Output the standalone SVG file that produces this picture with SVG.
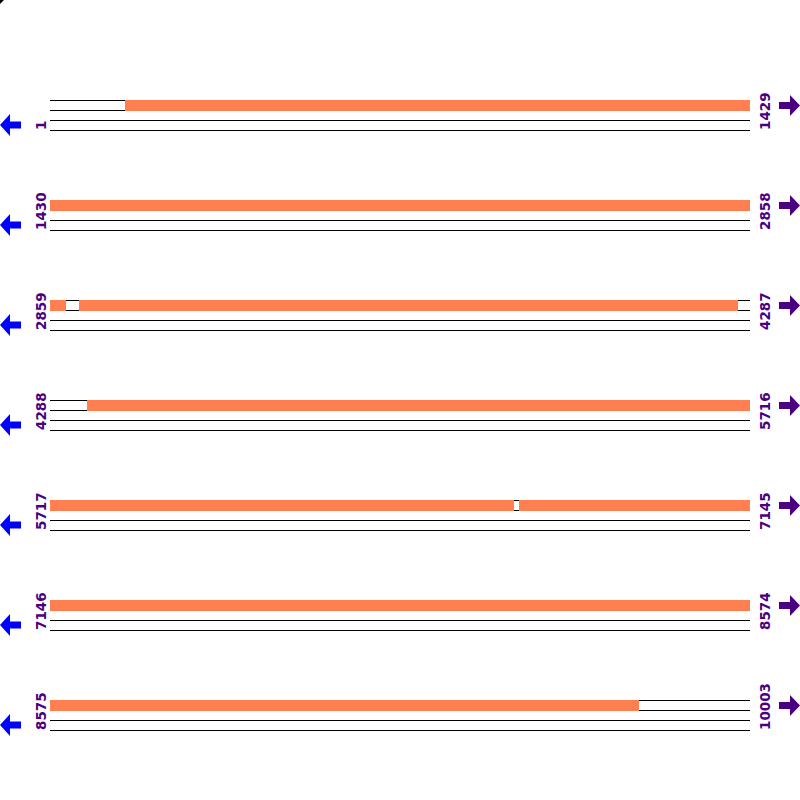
<svg xmlns="http://www.w3.org/2000/svg" width="800" height="800" viewBox="0 0 800 800">
<defs>
<style>
.ln{stroke:#000;stroke-width:1;fill:none}
.bar{fill:#ff7f50}
.lbl{font-family:"DejaVu Sans","Liberation Sans",sans-serif;font-size:13.5px;font-weight:bold;fill:#4b0082}
.la{fill:#0000ff}
.ra{fill:#4b0082}
</style>
<g id="tracks">
<path class="ln" d="M50,100.5H750M50,110.5H750M50,120.5H750M50,130.5H750"/>
</g>
<polygon id="larrow" class="la" points="0,125 10,114 10,121.5 21,121.5 21,128.5 10,128.5 10,136"/>
<polygon id="rarrow" class="ra" points="800,105.5 790,95 790,102 779,102 779,109 790,109 790,116"/>
</defs>
<rect width="800" height="800" fill="#fff"/>
<polygon points="0,0 4,0 0,4" fill="#000"/>
<g id="row1">
<use href="#tracks"/><rect class="bar" x="125" y="100" width="625" height="11"/>
<text class="lbl" transform="translate(46,130) rotate(-90)">1</text>
<text class="lbl" transform="translate(770,130) rotate(-90)">1429</text>
<use href="#larrow"/><use href="#rarrow"/>
</g>
<g id="row2" transform="translate(0,100)">
<use href="#tracks"/><rect class="bar" x="50" y="100" width="700" height="11"/>
<text class="lbl" transform="translate(46,130) rotate(-90)">1430</text>
<text class="lbl" transform="translate(770,130) rotate(-90)">2858</text>
<use href="#larrow"/><use href="#rarrow"/>
</g>
<g id="row3" transform="translate(0,200)">
<use href="#tracks"/><rect class="bar" x="50" y="100" width="16" height="11"/><rect class="bar" x="79" y="100" width="659" height="11"/>
<text class="lbl" transform="translate(46,130) rotate(-90)">2859</text>
<text class="lbl" transform="translate(770,130) rotate(-90)">4287</text>
<use href="#larrow"/><use href="#rarrow"/>
</g>
<g id="row4" transform="translate(0,300)">
<use href="#tracks"/><rect class="bar" x="87" y="100" width="663" height="11"/>
<text class="lbl" transform="translate(46,130) rotate(-90)">4288</text>
<text class="lbl" transform="translate(770,130) rotate(-90)">5716</text>
<use href="#larrow"/><use href="#rarrow"/>
</g>
<g id="row5" transform="translate(0,400)">
<use href="#tracks"/><rect class="bar" x="50" y="100" width="464" height="11"/><rect class="bar" x="519" y="100" width="231" height="11"/>
<text class="lbl" transform="translate(46,130) rotate(-90)">5717</text>
<text class="lbl" transform="translate(770,130) rotate(-90)">7145</text>
<use href="#larrow"/><use href="#rarrow"/>
</g>
<g id="row6" transform="translate(0,500)">
<use href="#tracks"/><rect class="bar" x="50" y="100" width="700" height="11"/>
<text class="lbl" transform="translate(46,130) rotate(-90)">7146</text>
<text class="lbl" transform="translate(770,130) rotate(-90)">8574</text>
<use href="#larrow"/><use href="#rarrow"/>
</g>
<g id="row7" transform="translate(0,600)">
<use href="#tracks"/><rect class="bar" x="50" y="100" width="589" height="11"/>
<text class="lbl" transform="translate(46,130) rotate(-90)">8575</text>
<text class="lbl" transform="translate(770,130) rotate(-90)">10003</text>
<use href="#larrow"/><use href="#rarrow"/>
</g>
<g id="connectors"/>
</svg>
